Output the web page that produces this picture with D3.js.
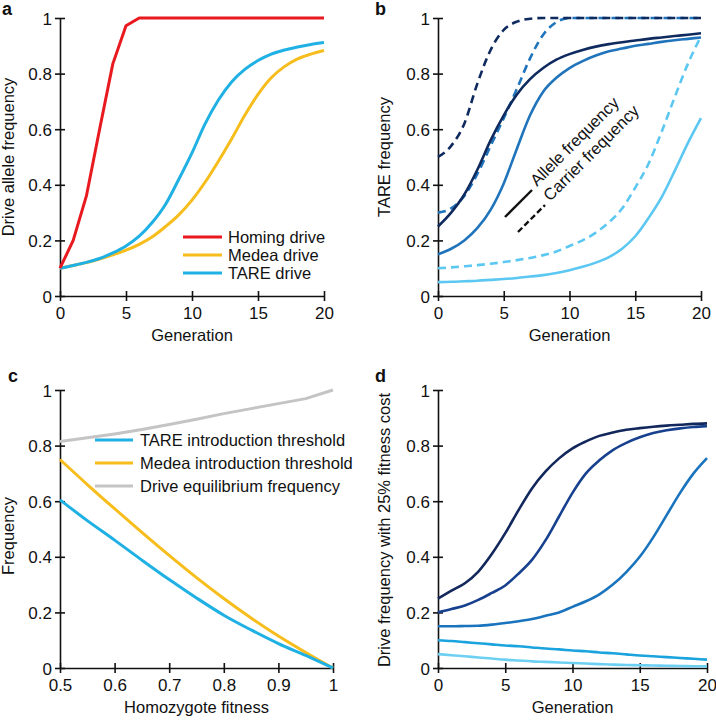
<!DOCTYPE html>
<html>
<head>
<meta charset="utf-8">
<script src="https://cdn.jsdelivr.net/npm/d3@7"></script>
<style>
  html, body { margin: 0; padding: 0; background: #fff; }
  svg { display: block; }
  text { font-family: "Liberation Sans", Arial, Helvetica, sans-serif; fill: #111; }
</style>
</head>
<body>
<svg id="chart" width="716" height="721"></svg>
<script>
// ---------------- DATA ----------------
const generations = [0,1,2,3,4,5,6,7,8,9,10,11,12,13,14,15,16,17,18,19,20];

// Panel a
const homingDrive = [0.1,0.2,0.36,0.6,0.835,0.972,1,1,1,1,1,1,1,1,1,1,1,1,1,1,1];
const medeaDrive  = [0.1,0.11,0.12,0.133,0.148,0.165,0.186,0.213,0.25,0.292,0.345,0.41,0.485,0.565,0.65,0.725,0.785,0.825,0.853,0.87,0.883];
const tareDrive   = [0.1,0.11,0.121,0.135,0.155,0.18,0.215,0.265,0.33,0.42,0.515,0.62,0.705,0.77,0.815,0.847,0.87,0.885,0.896,0.905,0.912];
const legendA = ["Homing drive","Medea drive","TARE drive"];

// Panel b
const bDarkAllele    = [0.25,0.3,0.365,0.455,0.56,0.65,0.725,0.78,0.82,0.85,0.87,0.885,0.897,0.906,0.913,0.919,0.925,0.93,0.935,0.94,0.945];
const bDarkCarrier   = [0.5,0.54,0.62,0.765,0.885,0.957,0.987,0.997,1,1,1,1,1,1,1,1,1,1,1,1,1];
const bMedAllele     = [0.15,0.17,0.2,0.245,0.31,0.405,0.53,0.65,0.735,0.785,0.82,0.845,0.865,0.88,0.89,0.9,0.907,0.914,0.92,0.925,0.93];
const bMedCarrier    = [0.3,0.315,0.36,0.44,0.54,0.64,0.745,0.855,0.94,0.985,1,1,1,1,1,1,1,1,1,1,1];
const bLightAllele   = [0.05,0.051,0.053,0.055,0.058,0.061,0.065,0.07,0.075,0.083,0.093,0.105,0.12,0.14,0.17,0.215,0.28,0.355,0.45,0.55,0.64];
const bLightCarrier  = [0.1,0.103,0.107,0.111,0.116,0.122,0.129,0.137,0.147,0.16,0.18,0.2,0.228,0.265,0.315,0.39,0.475,0.59,0.715,0.835,0.935];
const annotB = ["Allele frequency","Carrier frequency"];

// Panel c
const homozygoteFitness = [0.5,0.55,0.6,0.65,0.7,0.75,0.8,0.85,0.9,0.95,1.0];
const tareThreshold  = [0.605,0.53,0.46,0.388,0.318,0.252,0.19,0.137,0.088,0.045,0];
const medeaThreshold = [0.75,0.66,0.573,0.488,0.405,0.325,0.25,0.18,0.115,0.056,0];
const equilibrium    = [0.815,0.828,0.842,0.858,0.876,0.895,0.915,0.933,0.951,0.969,1.0];
const legendC = ["TARE introduction threshold","Medea introduction threshold","Drive equilibrium frequency"];

// Panel d
const d25 = [0.25,0.278,0.305,0.347,0.41,0.485,0.569,0.647,0.707,0.754,0.79,0.815,0.835,0.847,0.857,0.863,0.868,0.872,0.875,0.878,0.88];
const d20 = [0.2,0.212,0.225,0.245,0.27,0.297,0.34,0.39,0.46,0.545,0.63,0.7,0.747,0.784,0.81,0.83,0.845,0.855,0.862,0.867,0.87];
const d15 = [0.15,0.15,0.151,0.152,0.156,0.162,0.168,0.176,0.188,0.2,0.22,0.24,0.265,0.3,0.345,0.4,0.47,0.55,0.63,0.7,0.755];
const d10 = [0.1,0.097,0.093,0.089,0.085,0.081,0.078,0.074,0.07,0.067,0.063,0.06,0.056,0.053,0.049,0.045,0.042,0.039,0.036,0.033,0.03];
const d05 = [0.05,0.046,0.042,0.038,0.034,0.03,0.027,0.024,0.022,0.02,0.018,0.016,0.014,0.012,0.011,0.01,0.009,0.008,0.007,0.0065,0.006];

// Tick labels
const genTicks = [0,5,10,15,20];
const freqTicks = [0,0.2,0.4,0.6,0.8,1];
const fitTicks = [0.5,0.6,0.7,0.8,0.9,1];

// ---------------- DRAW ----------------
const svg = d3.select("#chart");
const FONT = 16.5;
const TICKFONT = 17;
const fmt = d => String(d);

function panel(opts) {
  const g = svg.append("g");
  const x = d3.scaleLinear().domain(opts.xDomain).range(opts.xRange);
  const y = d3.scaleLinear().domain([0,1]).range(opts.yRange);
  const xAxis = d3.axisBottom(x).tickValues(opts.xTicks).tickSize(0).tickFormat(fmt);
  const yAxis = d3.axisLeft(y).tickValues(freqTicks).tickSize(0).tickFormat(fmt);
  const gx = g.append("g").attr("transform", `translate(0,${opts.yRange[0]})`).call(xAxis);
  const gy = g.append("g").attr("transform", `translate(${opts.xRange[0]},0)`).call(yAxis);
  [gx, gy].forEach(a => {
    a.select(".domain").attr("stroke", "#111").attr("stroke-width", 1.6);
    a.selectAll("text").style("font-size", TICKFONT + "px").attr("fill", "#111")
      .style("font-family", '"Liberation Sans", Arial, Helvetica, sans-serif');
  });
  gx.selectAll(".tick text").attr("dy", "0").attr("y", 23);
  gy.selectAll(".tick text").attr("x", -8).attr("dy", "0.36em");
  gx.selectAll(".tick").append("line").attr("y1", -5).attr("y2", 5).attr("stroke", "#111").attr("stroke-width", 1.6);
  gy.selectAll(".tick").append("line").attr("x1", -5).attr("x2", 5).attr("stroke", "#111").attr("stroke-width", 1.6);
  g.append("text").attr("x", (opts.xRange[0] + opts.xRange[1]) / 2).attr("y", opts.yRange[0] + 45)
    .attr("text-anchor", "middle").style("font-size", FONT + "px").text(opts.xTitle);
  g.append("text").attr("transform", `translate(${opts.yTitleX},${opts.yTitleY}) rotate(-90)`)
    .attr("text-anchor", "middle").style("font-size", FONT + "px").text(opts.yTitle);
  g.append("text").attr("x", opts.labelX).attr("y", opts.labelY)
    .style("font-size", "18px").style("font-weight", "bold").text(opts.label);
  return {g, x, y};
}

function drawLine(p, xs, ys, color, width, dash, linear) {
  const line = d3.line().x((d, i) => p.x(xs[i])).y(d => p.y(d))
    .curve(linear ? d3.curveLinear : d3.curveMonotoneX);
  const path = p.g.append("path").datum(ys).attr("d", line)
    .attr("fill", "none").attr("stroke", color).attr("stroke-width", width)
    .attr("stroke-linejoin", "round");
  if (dash) path.attr("stroke-dasharray", dash);
  return path;
}

// Panel a
const pa = panel({xDomain:[0,20], xRange:[60,324], yRange:[296,18], xTicks: genTicks,
  xTitle:"Generation", yTitle:"Drive allele frequency", yTitleX:14, yTitleY:157,
  label:"a", labelX:2, labelY:15});
const colA = ["#e8191f", "#f6bd1c", "#1fb0e4"];
drawLine(pa, generations, medeaDrive, colA[1], 3);
drawLine(pa, generations, tareDrive, colA[2], 3);
drawLine(pa, generations, homingDrive, colA[0], 3, null, true);
legendA.forEach((t, i) => {
  const yy = 237 + i * 18;
  pa.g.append("line").attr("x1", 183).attr("x2", 222).attr("y1", yy).attr("y2", yy)
    .attr("stroke", colA[i]).attr("stroke-width", 3);
  pa.g.append("text").attr("x", 228).attr("y", yy).attr("dy", "0.36em")
    .style("font-size", FONT + "px").text(t);
});

// Panel b
const pb = panel({xDomain:[0,20], xRange:[438,701], yRange:[296,18], xTicks: genTicks,
  xTitle:"Generation", yTitle:"TARE frequency", yTitleX:390, yTitleY:157,
  label:"b", labelX:375, labelY:15});
const cDark = "#0f2a5e", cMed = "#1f74bb", cLight = "#5cc8f2";
drawLine(pb, generations, bLightAllele, cLight, 2.6);
drawLine(pb, generations, bLightCarrier, cLight, 2.6, "8,5");
drawLine(pb, generations, bMedAllele, cMed, 2.6);
drawLine(pb, generations, bMedCarrier, cMed, 2.6, "8,5");
drawLine(pb, generations, bDarkAllele, cDark, 2.6);
drawLine(pb, generations, bDarkCarrier, cDark, 2.6, "8,5");
pb.g.append("line").attr("x1", 505).attr("y1", 217).attr("x2", 532).attr("y2", 190)
  .attr("stroke", "#111").attr("stroke-width", 2.4);
pb.g.append("line").attr("x1", 518).attr("y1", 232).attr("x2", 545).attr("y2", 205)
  .attr("stroke", "#111").attr("stroke-width", 2.4).attr("stroke-dasharray", "6,3");
pb.g.append("text").attr("transform", "translate(537,187) rotate(-45)")
  .style("font-size", FONT + "px").text(annotB[0]);
pb.g.append("text").attr("transform", "translate(550,202) rotate(-45)")
  .style("font-size", FONT + "px").text(annotB[1]);

// Panel c
const pc = panel({xDomain:[0.5,1], xRange:[60,333], yRange:[668,390], xTicks: fitTicks,
  xTitle:"Homozygote fitness", yTitle:"Frequency", yTitleX:14, yTitleY:536,
  label:"c", labelX:8, labelY:382});
const colC = ["#1fb0e4", "#f6bd1c", "#c4c4c4"];
drawLine(pc, homozygoteFitness, equilibrium, colC[2], 3, null, true);
drawLine(pc, homozygoteFitness, medeaThreshold, colC[1], 3);
drawLine(pc, homozygoteFitness, tareThreshold, colC[0], 3);
legendC.forEach((t, i) => {
  const yy = 440 + i * 23;
  pc.g.append("line").attr("x1", 95).attr("x2", 133).attr("y1", yy).attr("y2", yy)
    .attr("stroke", colC[i]).attr("stroke-width", 3);
  pc.g.append("text").attr("x", 140).attr("y", yy).attr("dy", "0.36em")
    .style("font-size", FONT + "px").text(t);
});

// Panel d
const pd = panel({xDomain:[0,20], xRange:[438,707], yRange:[668,390], xTicks: genTicks,
  xTitle:"Generation", yTitle:"Drive frequency with 25% fitness cost", yTitleX:390, yTitleY:530,
  label:"d", labelX:375, labelY:382});
const colD = ["#12275c", "#17418f", "#1a74bd", "#1ba3de", "#6dd0f2"];
drawLine(pd, generations, d05, colD[4], 2.6);
drawLine(pd, generations, d10, colD[3], 2.6);
drawLine(pd, generations, d15, colD[2], 2.6);
drawLine(pd, generations, d20, colD[1], 2.6);
drawLine(pd, generations, d25, colD[0], 2.6);
</script>
</body>
</html>
